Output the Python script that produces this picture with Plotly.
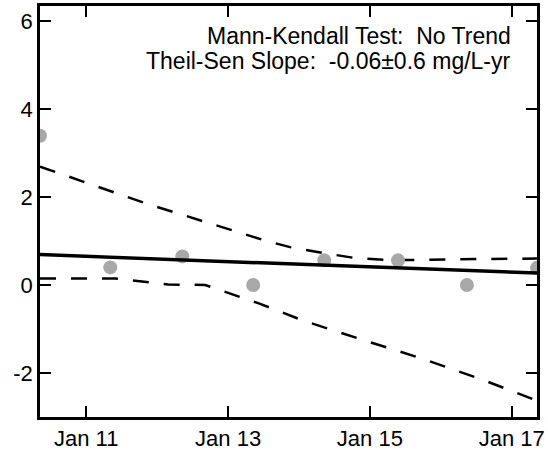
import plotly.graph_objects as go

# Observations
obs_dates = ["2010-05-08", "2011-05-05", "2012-05-10", "2013-05-10",
             "2014-05-11", "2015-05-26", "2016-05-15", "2017-05-11"]
obs_values = [3.39, 0.40, 0.65, 0.00, 0.56, 0.56, 0.00, 0.39]

# Theil-Sen trend line
trend_dates = ["2010-05-08", "2017-05-11"]
trend_values = [0.69, 0.27]

# Upper confidence bound
upper_dates = ["2010-05-08", "2011-10-31", "2013-07-10", "2013-11-16", "2014-04-30",
               "2014-10-06", "2015-03-30", "2015-09-01", "2016-08-07", "2017-05-11"]
upper_values = [2.69, 1.86, 1.01, 0.86, 0.73, 0.62, 0.57, 0.57, 0.59, 0.60]

# Lower confidence bound
lower_dates = ["2010-05-08", "2011-05-30", "2012-02-27", "2012-09-05", "2013-06-15",
               "2014-01-23", "2014-11-27", "2015-10-02", "2016-08-07", "2017-05-11"]
lower_values = [0.15, 0.15, 0.01, 0.00, -0.43, -0.81, -1.25, -1.68, -2.16, -2.63]

# Axis ticks
x_tickvals = ["2011-01-01", "2013-01-01", "2015-01-01", "2017-01-01"]
x_ticktext = ["Jan 11", "Jan 13", "Jan 15", "Jan 17"]
y_tickvals = [-2, 0, 2, 4, 6]
y_ticktext = ["-2", "0", "2", "4", "6"]

annot_lines = ["Mann-Kendall Test:\u00a0 No Trend",
               "Theil-Sen Slope:\u00a0 -0.06\u00b10.6 mg/L-yr"]

FONT = "Liberation Sans, Arial, sans-serif"

fig = go.Figure()
fig.add_trace(go.Scatter(x=upper_dates, y=upper_values, mode="lines",
                         line=dict(color="black", width=2.5, dash="16px,15px"),
                         showlegend=False, hoverinfo="skip"))
fig.add_trace(go.Scatter(x=lower_dates, y=lower_values, mode="lines",
                         line=dict(color="black", width=2.5, dash="16px,15px"),
                         showlegend=False, hoverinfo="skip"))
fig.add_trace(go.Scatter(x=obs_dates, y=obs_values, mode="markers",
                         marker=dict(color="#a8a8a8", size=14),
                         showlegend=False, cliponaxis=True))
fig.add_trace(go.Scatter(x=trend_dates, y=trend_values, mode="lines",
                         line=dict(color="black", width=3.5),
                         showlegend=False))

fig.update_layout(
    width=548, height=450,
    margin=dict(l=40, r=11, t=6, b=33, autoexpand=False),
    paper_bgcolor="white", plot_bgcolor="white",
    font=dict(family=FONT, size=22, color="black"),
    showlegend=False,
)
fig.update_xaxes(
    type="date", range=[obs_dates[0], obs_dates[-1]],
    tickvals=x_tickvals, ticktext=x_ticktext,
    ticks="inside", ticklen=11, tickwidth=1.5, tickcolor="black",
    showline=True, linewidth=2.5, linecolor="black", mirror="ticks",
    showgrid=False, zeroline=False, automargin=False,
    tickfont=dict(family=FONT, size=22),
)
fig.update_yaxes(
    range=[-3.0, 6.34],
    tickvals=y_tickvals, ticktext=y_ticktext,
    ticks="inside", ticklen=11, tickwidth=1.5, tickcolor="black",
    showline=True, linewidth=2.5, linecolor="black", mirror="ticks",
    showgrid=False, zeroline=False, automargin=False,
    tickfont=dict(family=FONT, size=22),
)

for i, txt in enumerate(annot_lines):
    fig.add_annotation(
        text=txt, xref="paper", yref="paper",
        x=0.952, y=[0.927, 0.866][i], xanchor="right", yanchor="middle",
        showarrow=False, font=dict(family=FONT, size=23, color="black"),
    )

fig.write_html("out.html", config={"displayModeBar": False},
               post_script="document.body.style.margin='0px';")
